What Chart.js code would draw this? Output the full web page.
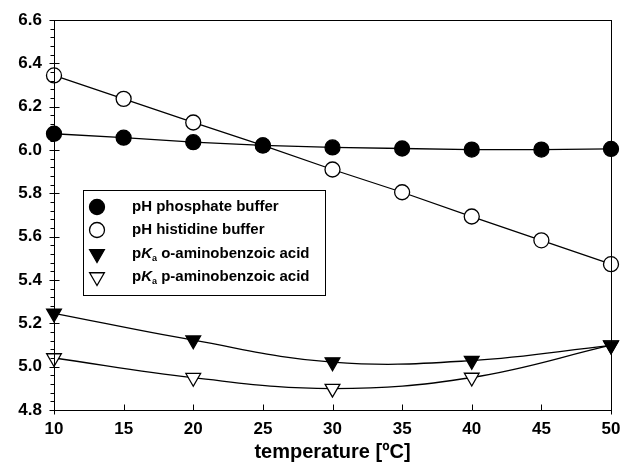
<!DOCTYPE html>
<html>
<head>
<meta charset="utf-8">
<script src="https://cdn.jsdelivr.net/npm/chart.js@4.4.1/dist/chart.umd.min.js"></script>
<style>
html,body{margin:0;padding:0;background:#fff;}
#wrap{width:623px;height:470px;}
</style>
</head>
<body>
<div id="wrap"><canvas id="c" width="623" height="470"></canvas></div>
<script>
// ---- data ----
const tempAll = [10, 15, 20, 25, 30, 35, 40, 45, 50];
const tempKa = [10, 20, 30, 40, 50];
const phPhosphate = [6.075, 6.057, 6.036, 6.021, 6.012, 6.007, 6.002, 6.002, 6.005];
const phHistidine = [6.344, 6.236, 6.127, 6.021, 5.910, 5.805, 5.693, 5.583, 5.473];
const pKaOrtho = [5.246, 5.122, 5.021, 5.028, 5.098];
const pKaPara = [5.040, 4.949, 4.899, 4.950, 5.099];
const xTicks = [10, 15, 20, 25, 30, 35, 40, 45, 50];
const yTicks = [4.8, 5.0, 5.2, 5.4, 5.6, 5.8, 6.0, 6.2, 6.4, 6.6];
const seriesLabels = ['pH phosphate buffer', 'pH histidine buffer', 'o-aminobenzoic acid', 'p-aminobenzoic acid'];

const FONT = '"Liberation Sans", Arial, sans-serif';
const pts = (xs, ys) => xs.map((x, i) => ({x: x, y: ys[i]}));

function ds(label, data, style, fill, rot, tension, radius) {
  return {
    label: label, data: data,
    borderColor: '#000', borderWidth: 1.3,
    pointStyle: style, pointRotation: rot, pointRadius: radius, pointHoverRadius: radius,
    pointBackgroundColor: fill, pointBorderColor: '#000', pointBorderWidth: 1.3,
    tension: tension, clip: false, fill: false
  };
}

const axesPlugin = {
  id: 'axesPlugin',
  afterDatasetsDraw(chart) {
    const ctx = chart.ctx, a = chart.chartArea;
    const xs = chart.scales.x, ys = chart.scales.y;
    ctx.save();
    ctx.strokeStyle = '#000';
    ctx.lineWidth = 1;
    ctx.strokeRect(Math.round(a.left) + 0.5, Math.round(a.top) + 0.5, Math.round(a.right - a.left), Math.round(a.bottom - a.top));
    ctx.beginPath();
    const L = Math.round(a.left) + 0.5;
    for (let v = 4.8; v <= 6.6001; v += 0.04) {
      const y = Math.round(ys.getPixelForValue(v)) + 0.5;
      const isMajor = Math.abs(v * 5 - Math.round(v * 5)) < 1e-6;
      if (isMajor) { ctx.moveTo(L - 5, y); ctx.lineTo(L + 5, y); }
      else { ctx.moveTo(L - 4, y); ctx.lineTo(L, y); }
    }
    const B = Math.round(a.bottom) + 0.5;
    xTicks.forEach(v => {
      const x = Math.round(xs.getPixelForValue(v)) + 0.5;
      ctx.moveTo(x, B - 6); ctx.lineTo(x, B);
    });
    ctx.moveTo(L, B); ctx.lineTo(L, B + 4);
    const R = Math.round(a.right) + 0.5;
    ctx.moveTo(R, B); ctx.lineTo(R, B + 4);
    ctx.stroke();
    ctx.restore();
  },
  afterDraw(chart) {
    const ctx = chart.ctx;
    ctx.save();
    const bx = 83.5, by = 190.5, bw = 242, bh = 105;
    ctx.fillStyle = '#fff';
    ctx.strokeStyle = '#000';
    ctx.lineWidth = 1;
    ctx.fillRect(bx, by, bw, bh);
    ctx.strokeRect(bx, by, bw, bh);
    const rows = [207, 230, 254, 277];
    const symX = 97, txtX = 132;
    chart.data.datasets.forEach((d, i) => {
      ctx.fillStyle = d.pointBackgroundColor;
      ctx.strokeStyle = '#000';
      ctx.lineWidth = 1.3;
      Chart.helpers.drawPoint(ctx, {pointStyle: d.pointStyle, rotation: d.pointRotation, radius: d.pointRadius, borderWidth: 1.3}, symX, rows[i]);
      ctx.fillStyle = '#000';
      ctx.textBaseline = 'middle';
      ctx.textAlign = 'left';
      const base = 'bold 15px ' + FONT;
      let x = txtX;
      if (i < 2) {
        ctx.font = base;
        ctx.fillText(d.label, x, rows[i]);
      } else {
        ctx.font = base;
        ctx.fillText('p', x, rows[i]); x += ctx.measureText('p').width;
        ctx.font = 'italic bold 15px ' + FONT;
        ctx.fillText('K', x, rows[i]); x += ctx.measureText('K').width;
        ctx.font = 'bold 9px ' + FONT;
        ctx.fillText('a', x, rows[i] + 5); x += ctx.measureText('a').width;
        ctx.font = base;
        ctx.fillText(' ' + d.label, x, rows[i]);
      }
    });
    ctx.restore();
  }
};

new Chart(document.getElementById('c'), {
  type: 'line',
  data: {
    datasets: [
      ds(seriesLabels[0], pts(tempAll, phPhosphate), 'circle', '#000', 0, 0, 7.5),
      ds(seriesLabels[1], pts(tempAll, phHistidine), 'circle', '#fff', 0, 0, 7.5),
      ds(seriesLabels[2], pts(tempKa, pKaOrtho), 'triangle', '#000', 180, 0.4, 8.5),
      ds(seriesLabels[3], pts(tempKa, pKaPara), 'triangle', '#fff', 180, 0.4, 8.5)
    ]
  },
  options: {
    responsive: false,
    animation: false,
    devicePixelRatio: 1,
    layout: {padding: {top: 20, right: 12, left: 0, bottom: 0}},
    plugins: {legend: {display: false}, tooltip: {enabled: false}},
    events: [],
    scales: {
      x: {
        type: 'linear', min: 10, max: 50,
        afterBuildTicks: s => { s.ticks = xTicks.map(v => ({value: v})); },
        afterFit: s => { s.height = 60; s.paddingLeft = 0; s.paddingRight = 0; },
        grid: {display: false, drawTicks: false},
        border: {display: false},
        ticks: {color: '#000', padding: 9, font: {family: FONT, size: 17, weight: 'bold'}, maxRotation: 0},
        title: {display: true, text: 'temperature [ºC]', color: '#000', padding: {top: 0, bottom: 6}, font: {family: FONT, size: 20, weight: 'bold'}}
      },
      y: {
        type: 'linear', min: 4.8, max: 6.6,
        afterBuildTicks: s => { s.ticks = yTicks.map(v => ({value: v})); },
        afterFit: s => { s.width = 54; s.paddingTop = 0; s.paddingBottom = 0; },
        grid: {display: false, drawTicks: false},
        border: {display: false},
        ticks: {color: '#000', padding: 12, font: {family: FONT, size: 17, weight: 'bold'}, callback: v => Number(v).toFixed(1)}
      }
    }
  },
  plugins: [axesPlugin]
});
</script>
</body>
</html>
